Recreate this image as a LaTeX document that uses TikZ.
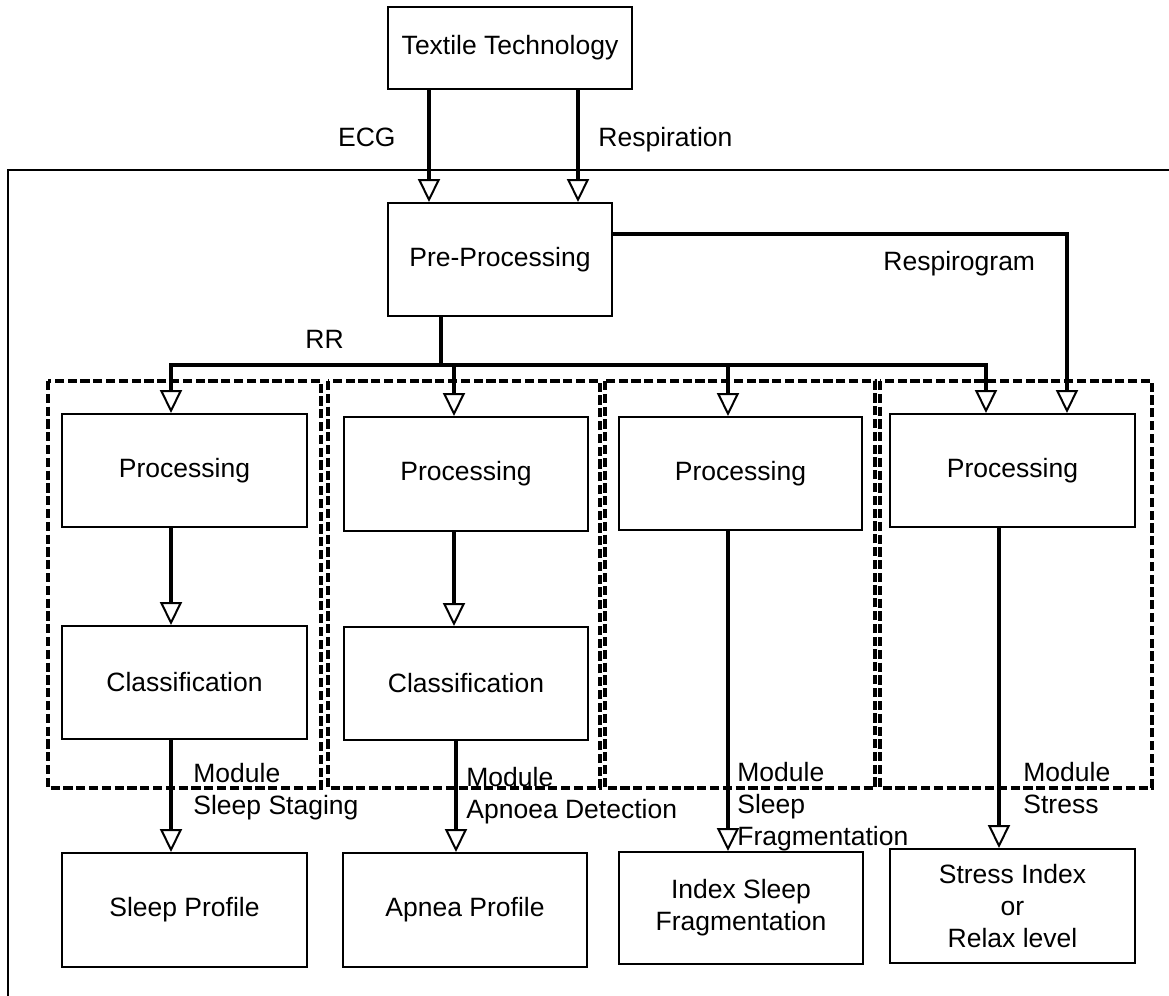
\documentclass[tikz,border=0pt]{standalone}
\usepackage{fontspec}
\setmainfont{Liberation Sans}
\usetikzlibrary{arrows.meta}
\begin{document}
\begin{tikzpicture}[x=0.5pt,y=-0.5pt,
  font=\fontsize{13.25}{16}\selectfont,
  box/.style={draw,line width=1pt,inner sep=0pt,align=center,
    minimum width=122.5pt,minimum height=56.5pt},
  module/.style={draw,line width=1.6pt,dash pattern=on 4.6pt off 1.8pt},
  wire/.style={line width=1.8pt},
  conn/.style={wire,-{Triangle[fill=white,length=11.5pt,width=11pt,line width=1pt]}},
  lbl/.style={inner sep=0pt}]
\useasboundingbox (0,0) rectangle (1169,996);

% system frame (open at the bottom and right)
\draw[line width=1pt] (8,996) -- (8,170) -- (1169,170);

% module frames
\draw[module] (48,381) rectangle (321,788);
\draw[module] (328,381) rectangle (600,788);
\draw[module] (605,381) rectangle (875,788);
\draw[module] (880,381) rectangle (1152,788);

% blocks
\node[box,minimum width=122pt,minimum height=41pt] (tt) at (510,48) {Textile Technology};
\node[box,minimum width=112pt] (pre) at (500,259.5) {Pre-Processing};
\node[box] (p1) at (184.5,470.5) {Processing};
\node[box] (c1) at (184.5,682.5) {Classification};
\node[box,minimum height=57pt] (sp) at (184.5,910) {Sleep Profile};
\node[box,minimum width=122pt,minimum height=57pt] (p2) at (466,474) {Processing};
\node[box,minimum width=122pt] (c2) at (466,683.5) {Classification};
\node[box,minimum width=122pt,minimum height=57pt] (ap) at (465,910) {Apnea Profile};
\node[box,minimum width=121.5pt] (p3) at (740.5,473.5) {Processing};
\node[box,minimum width=122pt,minimum height=56pt] (is) at (741,908) {Index Sleep\\Fragmentation};
\node[box] (p4) at (1012.5,470.5) {Processing};
\node[box,minimum height=57pt] (st) at (1012.5,906) {Stress Index\\or\\Relax level};

% signal labels
\node[lbl,anchor=base east] (ecg) at (396,146) {ECG};
\node[lbl,anchor=base west] (resp) at (598,146) {Respiration};
\node[lbl,anchor=base west] (rsg) at (883,270) {Respirogram};
\node[lbl,anchor=base west] (rr) at (305,348) {RR};

% module names
\node[lbl,anchor=north west,align=left] (m1) at (193,763) {Module\\Sleep Staging};
\node[lbl,anchor=north west,align=left] (m2) at (466,767) {Module\\Apnoea Detection};
\node[lbl,anchor=north west,align=left] (m3) at (737,762) {Module\\Sleep\\Fragmentation};
\node[lbl,anchor=north west,align=left] (m4) at (1023,762) {Module\\Stress};

% connector columns
\coordinate (ecgx) at (429,0);
\coordinate (respx) at (578,0);
\coordinate (rrbus) at (441,365);
\coordinate (col1) at (171,0);
\coordinate (col2) at (454,0);
\coordinate (col2b) at (456,0);
\coordinate (col3) at (728,0);
\coordinate (col4) at (986,0);
\coordinate (col4b) at (999,0);
\coordinate (rsgline) at (1067,234);

% inputs
\draw[conn] (tt.south -| ecgx) -- (pre.north -| ecgx);
\draw[conn] (tt.south -| respx) -- (pre.north -| respx);

% RR distribution
\draw[wire] (pre.south -| rrbus) -- (rrbus);
\draw[conn] (rrbus) -| (p1.north -| col1);
\draw[conn] (rrbus) -| (p4.north -| col4);
\draw[conn] (rrbus -| col2) -- (p2.north -| col2);
\draw[conn] (rrbus -| col3) -- (p3.north -| col3);

% respirogram
\draw[conn] (rsgline -| pre.east) -- (rsgline) -- (p4.north -| rsgline);

% module chains
\draw[conn] (p1.south -| col1) -- (c1.north -| col1);
\draw[conn] (c1.south -| col1) -- (sp.north -| col1);
\draw[conn] (p2.south -| col2) -- (c2.north -| col2);
\draw[conn] (c2.south -| col2b) -- (ap.north -| col2b);
\draw[conn] (p3.south -| col3) -- (is.north -| col3);
\draw[conn] (p4.south -| col4b) -- (st.north -| col4b);
\end{tikzpicture}
\end{document}
